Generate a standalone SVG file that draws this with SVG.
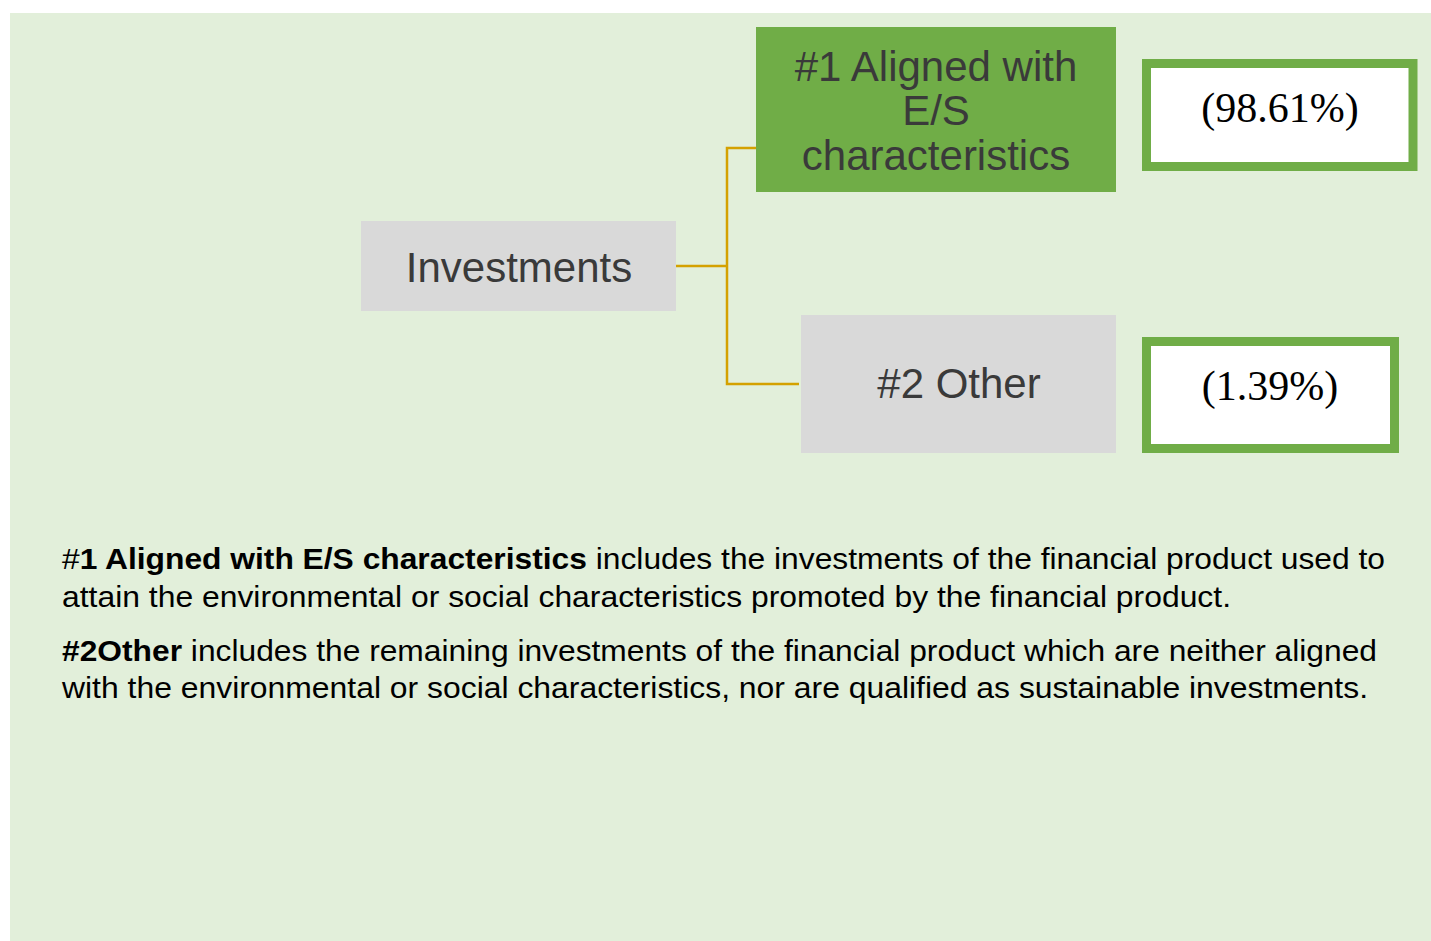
<svg xmlns="http://www.w3.org/2000/svg" width="1431" height="941" viewBox="0 0 1431 941">
<style>
.node{font-family:"Liberation Sans",Arial,sans-serif;font-size:42px;fill:#3a3a3a;text-anchor:middle}
.val{font-family:"Liberation Serif","Times New Roman",serif;font-size:42px;fill:#000;text-anchor:middle}
.body{font-family:"Liberation Sans",Arial,sans-serif;font-size:29px;fill:#000}
.conn{fill:none;stroke:#D4A100;stroke-width:2.5}
.vbox{fill:#fff;stroke:#70AD47;stroke-width:9}
</style>
<rect x="0" y="0" width="1431" height="941" fill="#fff"/>
<rect x="10" y="13" width="1421" height="928" fill="#E2EFDA"/>
<g id="connectors">
<path class="conn" d="M676 266 H727 M756 148 H727 V384 H799"/>
</g>
<g id="investments">
<rect x="361" y="221" width="315" height="90" fill="#D9D9D9"/>
<text class="node" x="519" y="282">Investments</text>
</g>
<g id="aligned">
<rect x="756" y="27" width="360" height="165" fill="#70AD47"/>
<text class="node" x="936" y="81">#1 Aligned with</text>
<text class="node" x="936" y="125">E/S</text>
<text class="node" x="936" y="170">characteristics</text>
</g>
<g id="other">
<rect x="801" y="315" width="315" height="138" fill="#D9D9D9"/>
<text class="node" x="959" y="398">#2 Other</text>
</g>
<g id="val1">
<rect class="vbox" x="1146.5" y="63.5" width="266.5" height="103"/>
<text class="val" x="1280" y="122">(98.61%)</text>
</g>
<g id="val2">
<rect class="vbox" x="1146.5" y="341.5" width="248" height="107"/>
<text class="val" x="1270" y="400">(1.39%)</text>
</g>
<g id="legend">
<text class="body" x="62" y="569" textLength="1323" lengthAdjust="spacingAndGlyphs">#<tspan font-weight="bold">1 Aligned with E/S characteristics</tspan> includes the investments of the financial product used to</text>
<text class="body" x="62" y="607" textLength="1169" lengthAdjust="spacingAndGlyphs">attain the environmental or social characteristics promoted by the financial product.</text>
<text class="body" x="62" y="661" textLength="1315" lengthAdjust="spacingAndGlyphs"><tspan font-weight="bold">#2Other</tspan> includes the remaining investments of the financial product which are neither aligned</text>
<text class="body" x="62" y="698" textLength="1306" lengthAdjust="spacingAndGlyphs">with the environmental or social characteristics, nor are qualified as sustainable investments.</text>
</g>
</svg>
